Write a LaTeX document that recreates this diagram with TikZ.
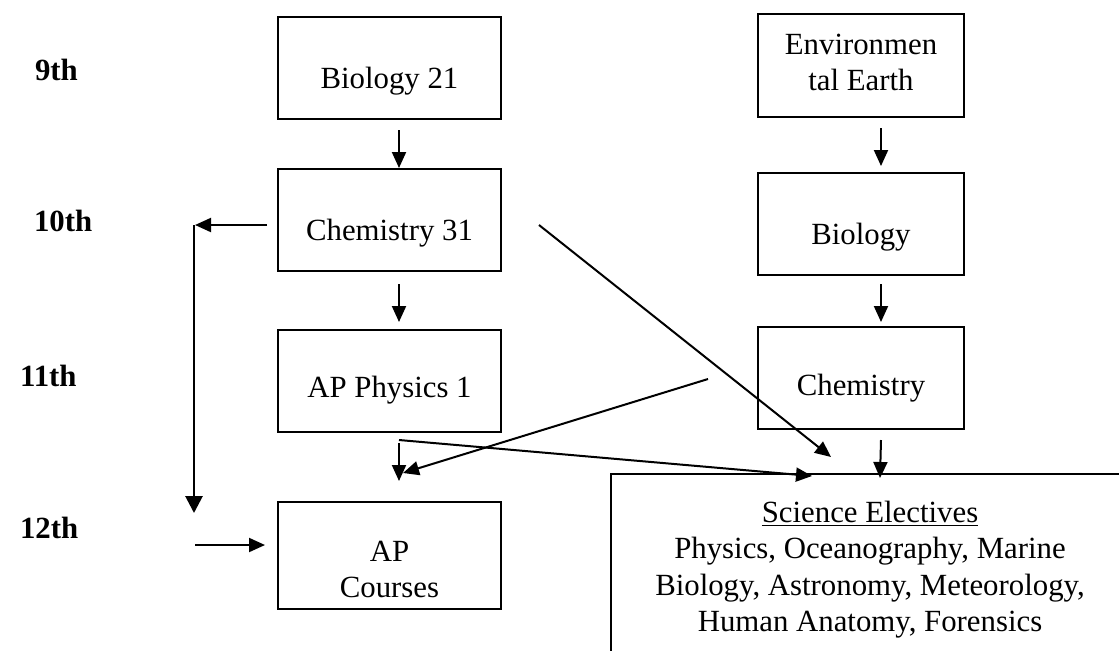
\documentclass[tikz,border=0pt]{standalone}
\usepackage{fontspec}
\setmainfont{Liberation Serif}
\usetikzlibrary{positioning}
\usetikzlibrary{calc}
\usetikzlibrary{arrows.meta}

\begin{document}
\begin{tikzpicture}[
    x=0.5pt, y=-0.5pt,
    every node/.style={font=\fontsize{15.4pt}{18.25pt}\selectfont},
    course/.style={rectangle, draw, line width=1pt, inner sep=0pt, align=flush center, anchor=north west, text height=35.5pt, text depth=15.5pt},
    leftcol/.style={course, text width=111.5pt},
    rightcol/.style={course, text width=103pt},
    grade/.style={anchor=base west, font=\fontsize{15.4pt}{18.25pt}\selectfont\bfseries},
    line/.style={-{Triangle[length=8pt, width=7pt]}, line width=1pt}
]

\useasboundingbox (0,0) rectangle (1119,650);
\clip (0,0) rectangle (1119,650);

% Grade labels
\node[grade] (g9) at (28,80) {9th};
\node[grade] (g10) at (27,231) {10th};
\node[grade] (g11) at (13,386) {11th};
\node[grade] (g12) at (13,538) {12th};

% Left track
\node[leftcol] (bio21) at (277,16) {Biology 21};
\node[leftcol] (chem31) at (277,168) {Chemistry 31};
\node[leftcol, text height=33.5pt, text depth=17.5pt] (apphys) at (277,329) {AP Physics 1};
\node[leftcol, text height=29.5pt, text depth=24pt] (apcourses) at (277,501) {AP\\Courses};

% Right track
\node[rightcol, text height=20pt, text depth=31.5pt] (enviro) at (757,13) {Environmen\\tal Earth};
\node[rightcol] (bio) at (757,172) {Biology};
\node[rightcol, text height=34pt, text depth=17pt] (chem) at (757,326) {Chemistry};

% Electives box (runs off the page)
\node[course, text width=259pt, text height=24pt, text depth=79.5pt] (electives) at (610,473)
    {\underline{Science Electives}\\Physics, Oceanography, Marine\\Biology, Astronomy, Meteorology,\\Human Anatomy, Forensics};

% Down arrows, left track
\draw[line] ($(bio21.south)+(9.5,10)$) -- ($(chem31.north)+(9.5,0)$);
\draw[line] ($(chem31.south)+(9.5,12)$) -- ($(apphys.north)+(9.5,-7)$);
\draw[line] ($(apphys.south)+(9.5,10)$) -- ($(apcourses.north)+(9.5,-20)$);

% Down arrows, right track
\draw[line] ($(enviro.south)+(20,10)$) -- ($(bio.north)+(20,-6)$);
\draw[line] ($(bio.south)+(20,8)$) -- ($(chem.north)+(20,-4)$);
\draw[line] ($(chem.south)+(20,10)$) -- ($(electives.north west)+(270,5)$);

% Crossing arrows
\draw[line] ($(chem31.east)+(37,5)$) -- ($(electives.north west)+(221,-16)$);
\draw[line] ($(apphys.south)+(9.5,7)$) -- ($(electives.north west)+(202,3)$);
\draw[line] ($(chem.west)+(-49,1)$) -- ($(apcourses.north)+(13.5,-28)$);

% Skip-ahead path on the left
\coordinate (skiptop) at ($(chem31.west)+(-83,5)$);
\coordinate (skipbot) at ($(apcourses.west)+(-83,-42.5)$);
\draw[line] ($(chem31.west)+(-10,5)$) -- ($(skiptop)+(1,0)$);
\draw[-{Triangle[length=8.5pt, width=8.5pt]}, line width=1.4pt] (skiptop) -- (skipbot);
\draw[line] ($(apcourses.west)+(-82,-10.5)$) -- ($(apcourses.west)+(-12,-10.5)$);

\end{tikzpicture}
\end{document}
